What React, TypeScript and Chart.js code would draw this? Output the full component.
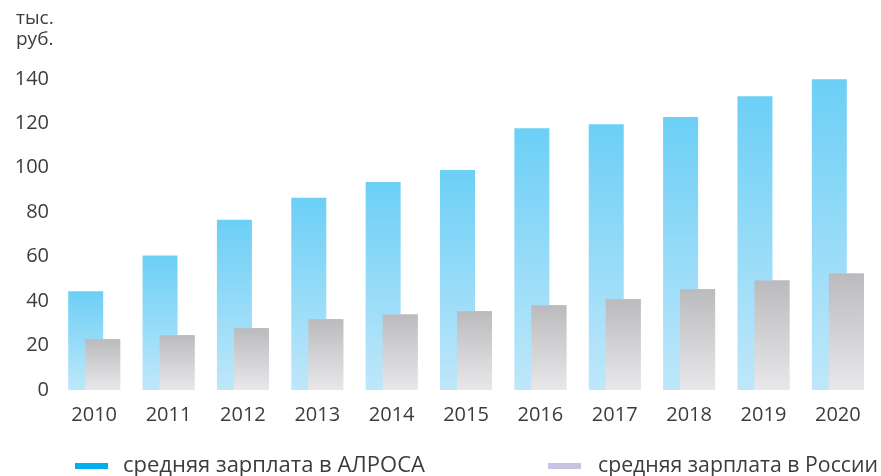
import React, { useEffect, useRef } from 'react';
import { Chart, registerables } from 'chart.js';

Chart.register(...registerables);

const years = ['2010', '2011', '2012', '2013', '2014', '2015', '2016', '2017', '2018', '2019', '2020'];
const alrosaSalary = [44.4, 60.5, 76.6, 86.5, 93.6, 99.0, 117.8, 119.6, 122.8, 132.2, 139.8];
const russiaSalary = [22.8, 24.6, 27.8, 31.8, 34.0, 35.4, 38.1, 40.8, 45.3, 49.3, 52.4];
const seriesLabels = ['средняя зарплата в АЛРОСА', 'средняя зарплата в России'];
const legendColors = ['#00aeef', '#c5c4e3'];
const unitLines = ['тыс.', 'руб.'];
const yMin = 0;
const yMax = 140;
const yStep = 20;

const FONT = '"Open Sans", "Noto Sans", sans-serif';
const TEXT = '#3c3c3c';

function barGradient(top: string, bottom: string) {
  return (ctx: any) => {
    const chart = ctx.chart;
    const y = chart.scales && chart.scales.y;
    if (!chart.chartArea || !y || ctx.raw == null) return top;
    const y1 = y.getPixelForValue(ctx.raw);
    const y0 = y.getPixelForValue(0);
    if (!isFinite(y1) || !isFinite(y0) || y1 === y0) return top;
    const g = chart.ctx.createLinearGradient(0, y1, 0, y0);
    g.addColorStop(0, top);
    g.addColorStop(1, bottom);
    return g;
  };
}

const frontPlugin = {
  id: 'grayInFront',
  afterDatasetsDraw(chart: any) {
    const meta = chart.getDatasetMeta(1);
    if (meta && !meta.hidden) meta.controller.draw();
  },
};

const legendPlugin = {
  id: 'lineLegend',
  afterDraw(chart: any) {
    const c = chart.ctx;
    const markerX = [75, 548];
    const textX = [123, 598];
    const textMax = [304, 280];
    const yMid = chart.height - 10;
    c.save();
    c.font = `22px ${FONT}`;
    c.textBaseline = 'middle';
    c.textAlign = 'left';
    seriesLabels.forEach((label, i) => {
      c.fillStyle = legendColors[i];
      c.fillRect(markerX[i], yMid - 3, 33, 6);
      c.fillStyle = TEXT;
      c.fillText(label, textX[i], yMid, textMax[i]);
    });
    c.restore();
  },
};

export default function App() {
  const ref = useRef<HTMLCanvasElement>(null);

  useEffect(() => {
    if (!ref.current) return;
    const chart = new Chart(ref.current, {
      type: 'bar',
      data: {
        labels: years,
        datasets: [
          {
            label: seriesLabels[0],
            data: alrosaSalary,
            backgroundColor: barGradient('#6ccff6', '#bfe7fa'),
            borderWidth: 0,
            categoryPercentage: 0.457,
            barPercentage: 2.06,
          },
          {
            label: seriesLabels[1],
            data: russiaSalary,
            backgroundColor: barGradient('#bbbbbd', '#e8e8ea'),
            borderWidth: 0,
            categoryPercentage: 0.457,
            barPercentage: 2.06,
          },
        ],
      },
      options: {
        animation: false,
        responsive: true,
        maintainAspectRatio: false,
        layout: { padding: { left: 16, right: 6, top: 0, bottom: 36 } },
        plugins: {
          legend: { display: false },
          tooltip: { enabled: false },
          title: {
            display: true,
            text: unitLines,
            align: 'start',
            color: TEXT,
            font: { family: FONT, size: 19, weight: 'normal', lineHeight: 1.1 },
            padding: { top: 8, bottom: 29 },
          },
        },
        scales: {
          x: {
            grid: { display: false, drawTicks: false },
            border: { display: false },
            ticks: { color: TEXT, font: { family: FONT, size: 20 }, padding: 13 },
          },
          y: {
            min: yMin,
            max: yMax,
            grid: { display: false, drawTicks: false },
            border: { display: false },
            ticks: { stepSize: yStep, color: TEXT, font: { family: FONT, size: 20 }, padding: 8 },
            afterFit: (s: any) => {
              s.width = 41;
            },
          },
        },
      },
      plugins: [frontPlugin, legendPlugin],
    });
    return () => chart.destroy();
  }, []);

  return (
    <div style={{ position: 'absolute', left: 0, top: 0, width: 881, height: 476, background: '#fff' }}>
      <canvas ref={ref} />
    </div>
  );
}
